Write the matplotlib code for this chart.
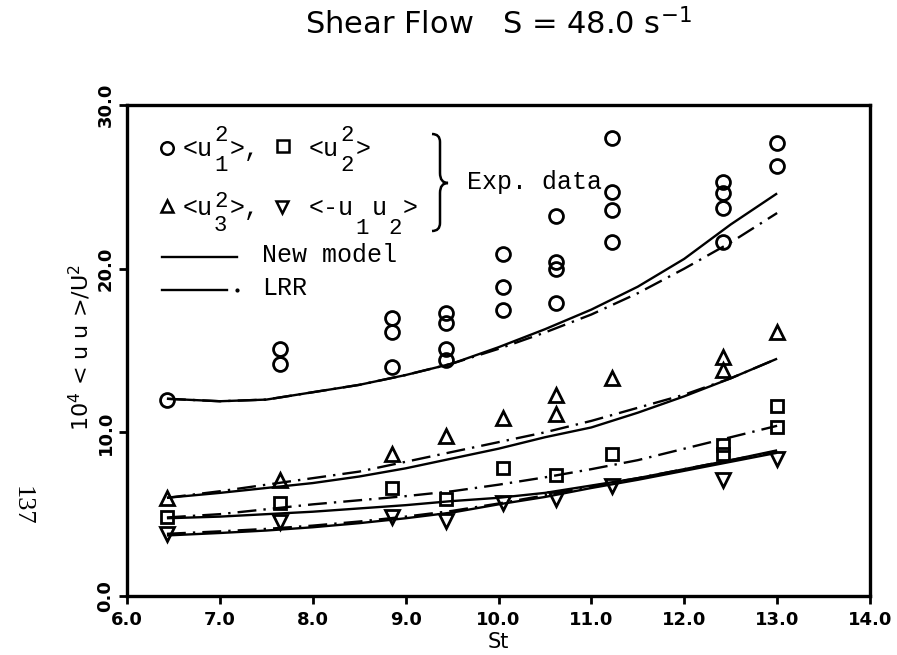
import matplotlib
matplotlib.use("Agg")
import matplotlib.pyplot as plt
from matplotlib.path import Path
from matplotlib.patches import PathPatch

# ---------------- data ----------------
# experimental data
u1_x = [6.43, 7.65, 7.65, 8.85, 8.85, 8.85, 9.43, 9.43, 9.43, 9.43,
        10.05, 10.05, 10.05, 10.62, 10.62, 10.62, 10.62,
        11.22, 11.22, 11.22, 11.22, 12.42, 12.42, 12.42, 12.42, 13.0, 13.0]
u1_y = [12.0, 15.1, 14.2, 17.0, 16.1, 14.0, 17.3, 16.7, 15.1, 14.4,
        20.9, 18.9, 17.5, 23.2, 20.4, 20.0, 17.9,
        28.0, 24.7, 23.6, 21.6, 25.3, 24.6, 23.7, 21.6, 27.7, 26.3]

u2_x = [6.43, 7.65, 8.85, 9.43, 10.05, 10.62, 11.22, 12.42, 12.42, 13.0, 13.0]
u2_y = [4.8, 5.7, 6.6, 5.9, 7.8, 7.4, 8.7, 9.2, 8.7, 11.6, 10.3]

u3_x = [6.43, 7.65, 8.85, 9.43, 10.05, 10.62, 10.62, 11.22, 12.42, 12.42, 13.0]
u3_y = [6.0, 7.1, 8.7, 9.8, 10.9, 12.3, 11.1, 13.3, 14.6, 13.8, 16.1]

uv_x = [6.43, 7.65, 8.85, 9.43, 10.05, 10.62, 11.22, 12.42, 13.0]
uv_y = [3.8, 4.5, 4.8, 4.6, 5.7, 5.9, 6.7, 7.1, 8.4]

# model curves
st = [6.43, 7.0, 7.5, 8.0, 8.5, 9.0, 9.5, 10.0, 10.5, 11.0, 11.5, 12.0, 12.5, 13.0]
new_u1 = [12.05, 11.9, 12.0, 12.45, 12.9, 13.5, 14.2, 15.2, 16.3, 17.5, 18.9, 20.6, 22.7, 24.6]
lrr_u1 = [12.05, 11.9, 12.0, 12.45, 12.9, 13.5, 14.2, 15.1, 16.1, 17.2, 18.5, 20.0, 21.6, 23.4]
new_u3 = [6.0, 6.3, 6.6, 6.9, 7.3, 7.8, 8.4, 9.0, 9.7, 10.3, 11.2, 12.2, 13.3, 14.5]
lrr_u3 = [6.0, 6.4, 6.8, 7.2, 7.6, 8.2, 8.8, 9.4, 10.0, 10.7, 11.5, 12.3, 13.3, 14.5]
new_u2 = [4.75, 4.85, 5.0, 5.15, 5.35, 5.55, 5.8, 6.0, 6.3, 6.75, 7.2, 7.75, 8.3, 8.9]
lrr_u2 = [4.8, 5.0, 5.3, 5.6, 5.85, 6.1, 6.4, 6.8, 7.25, 7.75, 8.3, 9.0, 9.7, 10.4]
new_uv = [3.7, 3.85, 4.0, 4.2, 4.45, 4.75, 5.1, 5.6, 6.05, 6.6, 7.1, 7.65, 8.2, 8.75]
lrr_uv = [3.8, 3.95, 4.1, 4.3, 4.55, 4.85, 5.2, 5.65, 6.15, 6.7, 7.2, 7.75, 8.3, 8.85]

xticks = [6.0, 7.0, 8.0, 9.0, 10.0, 11.0, 12.0, 13.0, 14.0]
yticks = [0.0, 10.0, 20.0, 30.0]

# ---------------- figure ----------------
W, H = 897, 655
fig = plt.figure(figsize=(W / 100, H / 100), dpi=100)
L, R, T, B = 127, 870, 105, 596
ax = fig.add_axes([L / W, 1 - B / H, (R - L) / W, (B - T) / H])

DASHDOT = (0, (8, 3, 1, 3))
lw = 1.7

for curve in (new_u1, new_u3, new_u2, new_uv):
    ax.plot(st, curve, color='black', lw=lw, solid_capstyle='butt')
for curve in (lrr_u1, lrr_u3, lrr_u2, lrr_uv):
    ax.plot(st, curve, color='black', lw=lw, linestyle=DASHDOT)

mk = dict(linestyle='none', mfc='none', mec='black', mew=2.0)
ax.plot(u1_x, u1_y, marker='o', ms=10, **mk)
ax.plot(u2_x, u2_y, marker='s', ms=9, **mk)
ax.plot(u3_x, u3_y, marker='^', ms=10, **mk)
ax.plot(uv_x, uv_y, marker='v', ms=10, **mk)

ax.set_xlim(6.0, 14.0)
ax.set_ylim(0.0, 30.0)
ax.set_xticks(xticks)
ax.set_xticklabels([f"{v:.1f}" for v in xticks], fontsize=13, fontweight='bold')
ax.set_yticks(yticks)
ax.set_yticklabels([f"{v:.1f}" for v in yticks], fontsize=13, fontweight='bold',
                   rotation=90, va='center')
ax.tick_params(direction='out', length=6, width=2, pad=3)
ax.tick_params(axis='x', pad=5)
for s in ax.spines.values():
    s.set_linewidth(2.4)

ax.set_xlabel("St", fontsize=15, labelpad=2)

# ---------------- legend (hand placed) ----------------
def fx(px):
    return (px - L) / (R - L)

def fy(py):
    return (B - py) / (B - T)

lk = dict(transform=ax.transAxes, linestyle='none', mfc='none', mec='black',
          mew=1.8, clip_on=False)
ax.plot([fx(167)], [fy(148)], marker='o', ms=9, **lk)
ax.plot([fx(283)], [fy(146)], marker='s', ms=8.5, **lk)
ax.plot([fx(167)], [fy(206)], marker='^', ms=9, **lk)
ax.plot([fx(282)], [fy(207)], marker='v', ms=9, **lk)


def put(px, py, s, size=18):
    ax.text(fx(px), fy(py), s, transform=ax.transAxes, fontsize=size,
            family='Liberation Mono', ha='left', va='baseline')


# row 1
put(183, 156, "<u")
put(214, 141, "2", 16)
put(214, 171, "1", 16)
put(230, 156, ">,")
put(309, 156, "<u")
put(340, 141, "2", 16)
put(340, 171, "2", 16)
put(356, 156, ">")
# row 2
put(183, 215, "<u")
put(214, 207, "2", 16)
put(214, 231, "3", 16)
put(230, 215, ">,")
put(309, 215, "<-u")
put(355, 234, "1", 16)
put(372, 215, "u")
put(388, 234, "2", 16)
put(403, 215, ">")

put(467, 189, "Exp. data")
put(262, 262, "New model")
put(262, 295, "LRR")

ax.plot([fx(162), fx(237)], [fy(257), fy(257)], color='black', lw=lw,
        transform=ax.transAxes, clip_on=False)
ax.plot([fx(162), fx(227)], [fy(290), fy(290)], color='black', lw=lw,
        transform=ax.transAxes, clip_on=False)
ax.plot([fx(237)], [fy(290)], marker='o', ms=2, color='black',
        transform=ax.transAxes, clip_on=False)

# curly brace
bx0, bx1, bx2 = 432, 440, 448
by0, bym, by1 = 134, 183, 231
verts = [
    (bx0, by0), (bx1, by0), (bx1, by0 + 8),
    (bx1, bym - 10), (bx1, bym), (bx2, bym),
    (bx1, bym), (bx1, bym + 10),
    (bx1, by1 - 8), (bx1, by1), (bx0, by1),
]
codes = [Path.MOVETO, Path.CURVE3, Path.CURVE3,
         Path.LINETO, Path.CURVE3, Path.CURVE3,
         Path.CURVE3, Path.CURVE3,
         Path.LINETO, Path.CURVE3, Path.CURVE3]
verts = [(fx(x), fy(y)) for x, y in verts]
ax.add_patch(PathPatch(Path(verts, codes), fill=False, lw=1.8,
                       transform=ax.transAxes, clip_on=False))

# ---------------- titles / labels ----------------
fig.text((L + R) / 2 / W, 1 - 24 / H, r"Shear Flow   S = 48.0 s$^{\mathsf{-1}}$",
         fontsize=22, ha='center', va='center', family='DejaVu Sans')
fig.text(80 / W, 1 - 347 / H, r"10$^{\mathsf{4}}$ < u u >/U$^{\mathsf{2}}$",
         fontsize=16, rotation=90, ha='center', va='center', family='DejaVu Sans')
fig.text(22 / W, 1 - 506 / H, "137", fontsize=19, rotation=-90,
         ha='center', va='center', family='Liberation Serif')

fig.savefig("out.png", dpi=100, facecolor='white')
